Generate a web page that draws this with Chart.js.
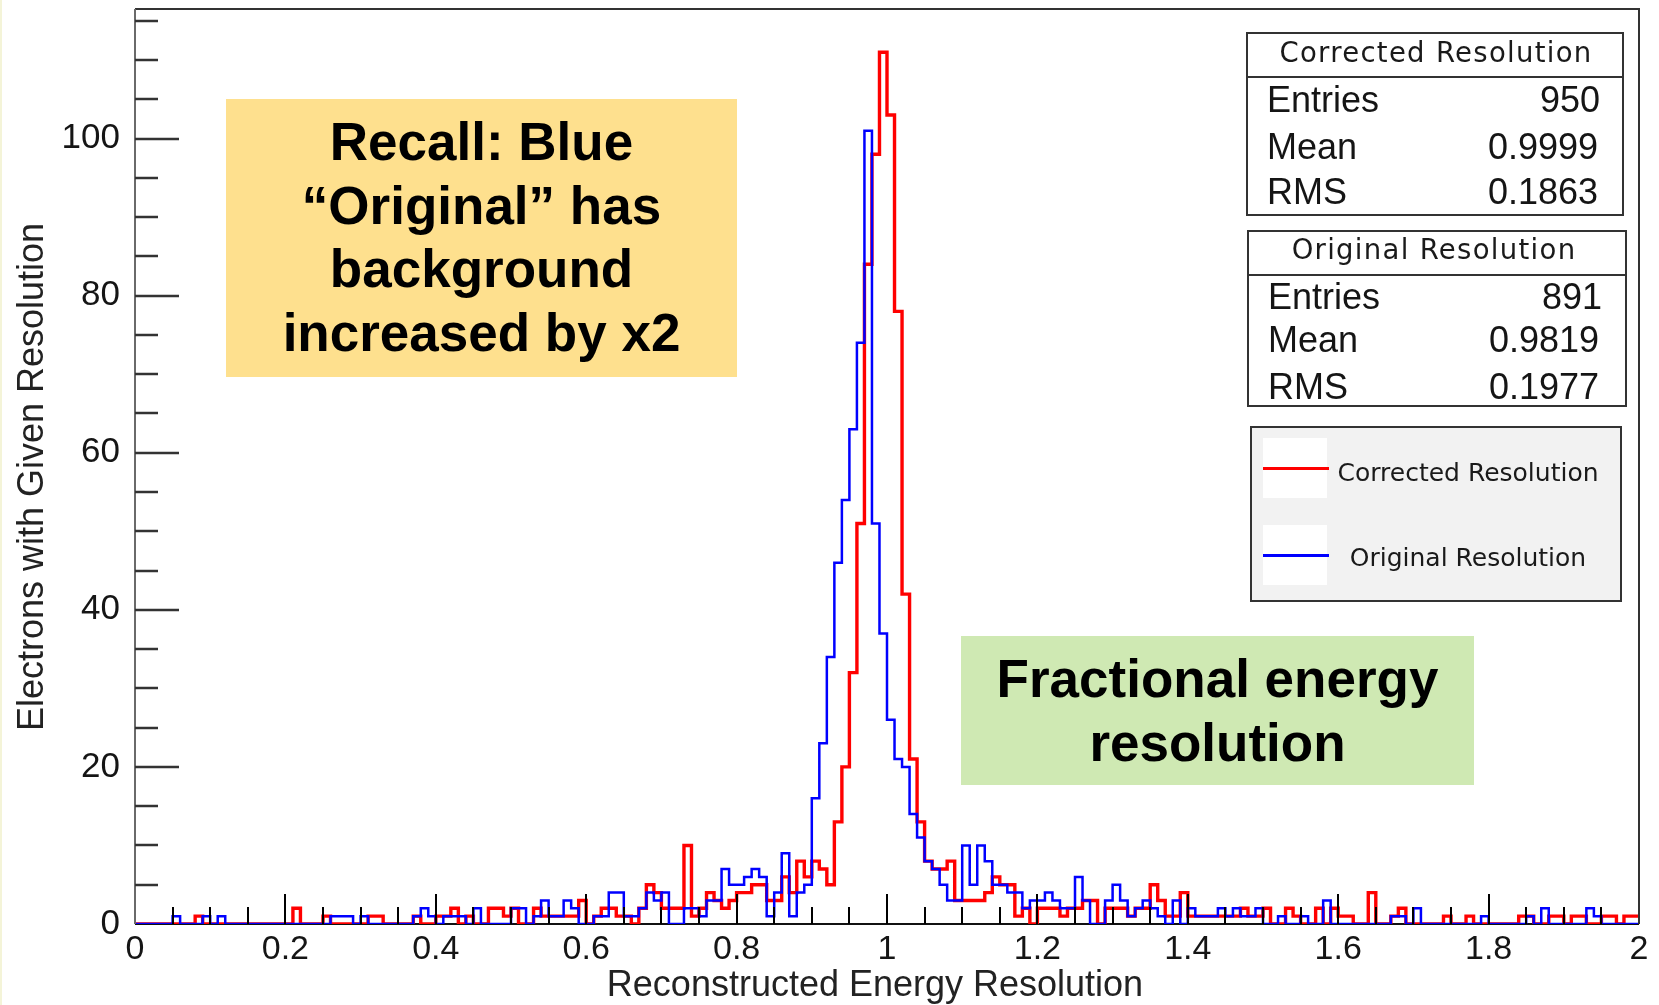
<!DOCTYPE html>
<html>
<head>
<meta charset="utf-8">
<title>Reconstructed Energy Resolution</title>
<script src="https://cdn.jsdelivr.net/npm/chart.js@4.4.1/dist/chart.umd.min.js"></script>
<style>
  html, body { margin: 0; padding: 0; background: #fff; overflow: hidden; }
  #wrap { position: relative; width: 1659px; height: 1005px; background: #fff; overflow: hidden; }
  #edge { position: absolute; left: 0; top: 0; width: 2px; height: 1005px; background: #f4f4d8; }
  #plot { position: absolute; left: 0; top: 0; }
  .abs { position: absolute; }
  .note { position: absolute; font-family: "Liberation Sans", Arial, sans-serif; font-weight: bold;
          font-size: 53px; text-align: center; color: #000; box-sizing: border-box; }
  #recall { left: 226px; top: 99px; width: 511px; height: 278px; background: #fee08e;
            line-height: 63.5px; padding-top: 11px; }
  #frac { left: 961px; top: 636px; width: 513px; height: 149px; background: #cfe9b3;
          line-height: 64px; padding-top: 10.5px; }
  .box { position: absolute; box-sizing: border-box; border: 2px solid #333; background: #fff; }
  .rule { position: absolute; height: 2px; background: #333; }
  .hd { position: absolute; font-family: "DejaVu Sans", sans-serif; font-size: 27.5px; line-height: 27px;
        letter-spacing: 1.3px; text-align: center; color: #1a1a1a; white-space: nowrap; }
  .lab, .val { position: absolute; font-family: "Liberation Sans", Arial, sans-serif; font-size: 36px;
               line-height: 36px; color: #151515; white-space: nowrap; }
  .val { text-align: right; }
  .legtxt { position: absolute; font-family: "DejaVu Sans", sans-serif; font-size: 25px; line-height: 25px;
            text-align: center; color: #1a1a1a; white-space: nowrap; }
</style>
</head>
<body>
<div id="wrap">
  <canvas id="plot" width="1659" height="1005"></canvas>
  <div id="edge"></div>

  <div id="recall" class="note">Recall: Blue<br>“Original” has<br>background<br>increased by x2</div>
  <div id="frac" class="note">Fractional energy<br>resolution</div>

  <!-- statistics box: corrected -->
  <div class="box" style="left:1246px;top:32px;width:378px;height:184px;"></div>
  <div class="rule" style="left:1246px;top:76px;width:378px;"></div>
  <div class="hd" style="left:1246px;top:39px;width:380px;">Corrected Resolution</div>
  <div class="lab" style="left:1267px;top:82px;">Entries</div>
  <div class="val" style="left:1400px;top:82px;width:200px;" id="cEntries"></div>
  <div class="lab" style="left:1267px;top:129px;">Mean</div>
  <div class="val" style="left:1400px;top:129px;width:198px;" id="cMean"></div>
  <div class="lab" style="left:1267px;top:174px;">RMS</div>
  <div class="val" style="left:1400px;top:174px;width:198px;" id="cRms"></div>

  <!-- statistics box: original -->
  <div class="box" style="left:1247px;top:230px;width:380px;height:177px;"></div>
  <div class="rule" style="left:1247px;top:274px;width:380px;"></div>
  <div class="hd" style="left:1246px;top:236px;width:376px;">Original Resolution</div>
  <div class="lab" style="left:1268px;top:279px;">Entries</div>
  <div class="val" style="left:1400px;top:279px;width:202px;" id="oEntries"></div>
  <div class="lab" style="left:1268px;top:322px;">Mean</div>
  <div class="val" style="left:1400px;top:322px;width:199px;" id="oMean"></div>
  <div class="lab" style="left:1268px;top:369px;">RMS</div>
  <div class="val" style="left:1400px;top:369px;width:199px;" id="oRms"></div>

  <!-- legend -->
  <div class="box" style="left:1250px;top:426px;width:372px;height:176px;background:#f2f2f2;"></div>
  <div class="abs" style="left:1263px;top:438px;width:64px;height:60px;background:#fff;"></div>
  <div class="abs" id="legRed" style="left:1263px;top:467px;width:66px;height:3px;"></div>
  <div class="abs" style="left:1263px;top:525px;width:64px;height:60px;background:#fff;"></div>
  <div class="abs" id="legBlue" style="left:1263px;top:554px;width:66px;height:3px;"></div>
  <div class="legtxt" id="legTxt1" style="left:1330px;top:460px;width:276px;"></div>
  <div class="legtxt" id="legTxt2" style="left:1330px;top:545px;width:276px;"></div>
</div>

<script>
// Histogram binning: 200 bins of width 0.01 over [0, 2]
const xMin = 0;
const xMax = 2;
const binWidth = 0.01;

// Corrected resolution, counts per bin
const corrected = [
  0,0,0,0,0,0,0,0,1,0, 0,0,0,0,0,0,0,0,0,0,
  0,2,0,0,0,1,0,0,0,0, 0,1,1,0,0,0,0,1,0,0,
  1,1,2,0,1,0,0,2,2,1, 2,0,0,2,1,1,1,1,1,3,
  0,1,2,2,1,1,0,2,5,4, 2,2,2,10,1,2,4,3,2,3,
  4,4,5,5,3,3,6,4,8,6, 8,7,5,13,20,32,51,84,98,111,
  103,78,42,21,13,8,7,7,8,3, 3,3,3,4,6,5,5,1,2,0,
  2,2,2,1,2,2,3,3,0,2, 2,2,1,2,2,5,3,1,1,4,
  1,1,1,1,1,1,1,2,1,1, 2,0,0,2,1,0,0,2,0,2,
  1,1,0,0,4,0,0,1,2,0, 0,0,0,0,1,0,0,1,0,0,
  0,0,0,0,1,1,0,0,1,1, 0,1,1,0,0,1,1,0,1,1
];

// Original resolution, counts per bin
const original = [
  0,0,0,0,0,1,0,0,0,1, 0,1,0,0,0,0,0,0,0,0,
  0,0,0,0,0,0,1,1,1,0, 1,0,0,0,0,0,0,1,2,1,
  0,1,1,1,0,2,0,0,0,0, 2,2,0,1,3,1,1,3,2,0,
  0,1,1,4,4,1,1,2,4,3, 4,0,0,2,2,1,3,3,7,5,
  5,6,7,6,1,4,9,1,4,5, 16,23,34,46,54,63,74,101,51,37,
  26,21,20,14,11,8,7,5,3,3, 10,5,10,8,5,5,4,4,2,3,
  3,4,3,2,2,6,3,0,0,3, 5,3,1,2,3,2,1,0,3,0,
  2,1,1,1,2,1,2,1,1,2, 0,0,1,0,0,1,0,0,3,0,
  0,0,0,0,0,0,0,1,1,0, 2,0,0,0,0,0,0,0,0,1,
  0,0,0,0,0,1,0,2,0,0, 0,0,0,2,1,0,0,0,0,0
];

// Series names and summary statistics
const seriesNames = ['Corrected Resolution', 'Original Resolution'];
const correctedStats = { entries: '950', mean: '0.9999', rms: '0.1863' };
const originalStats  = { entries: '891', mean: '0.9819', rms: '0.1977' };

// Axis tick values and labels
const xTickValues = [0, 0.2, 0.4, 0.6, 0.8, 1, 1.2, 1.4, 1.6, 1.8, 2];
const xTickLabels = ['0', '0.2', '0.4', '0.6', '0.8', '1', '1.2', '1.4', '1.6', '1.8', '2'];
const yTickValues = [0, 20, 40, 60, 80, 100];
const yTickLabels = ['0', '20', '40', '60', '80', '100'];
const yMax = 116.5;

const xTitle = 'Reconstructed Energy Resolution';
const yTitle = 'Electrons with Given Resolution';

const redColor = '#ff0000';
const blueColor = '#0000ff';

// Fill the HTML boxes
document.getElementById('cEntries').textContent = correctedStats.entries;
document.getElementById('cMean').textContent = correctedStats.mean;
document.getElementById('cRms').textContent = correctedStats.rms;
document.getElementById('oEntries').textContent = originalStats.entries;
document.getElementById('oMean').textContent = originalStats.mean;
document.getElementById('oRms').textContent = originalStats.rms;
document.getElementById('legTxt1').textContent = seriesNames[0];
document.getElementById('legTxt2').textContent = seriesNames[1];
document.getElementById('legRed').style.background = redColor;
document.getElementById('legBlue').style.background = blueColor;

// Step outline: each point starts a bin, the last point closes the range
function toSteps(counts) {
  const pts = counts.map((c, i) => ({ x: xMin + i * binWidth, y: c }));
  pts.push({ x: xMax, y: counts[counts.length - 1] });
  return pts;
}

// Frame, axis lines, inward tick marks and axis titles
const frameAndTicks = {
  id: 'frameAndTicks',
  beforeDatasetsDraw(chart) {
    const { ctx, chartArea: a } = chart;
    ctx.save();
    ctx.strokeStyle = '#111';
    ctx.lineWidth = 2;
    ctx.beginPath();
    ctx.moveTo(a.left, a.bottom);
    ctx.lineTo(a.right, a.bottom);
    ctx.stroke();
    ctx.restore();
  },
  afterDatasetsDraw(chart) {
    const { ctx, chartArea: a, scales: { x, y } } = chart;
    ctx.save();
    ctx.lineWidth = 2;
    ctx.strokeStyle = '#333';
    ctx.beginPath();
    ctx.moveTo(a.left, a.top);
    ctx.lineTo(a.right, a.top);
    ctx.lineTo(a.right, a.bottom);
    ctx.stroke();

    ctx.strokeStyle = '#6a6a6a';
    ctx.beginPath();
    ctx.moveTo(a.left, a.top);
    ctx.lineTo(a.left, a.bottom);
    ctx.stroke();

    // x ticks every 0.05, long ones at labelled values
    ctx.strokeStyle = '#000';
    ctx.lineWidth = 2;
    for (let k = 1; k < 40; k++) {
      const px = Math.round(x.getPixelForValue(k * 0.05));
      const len = (k % 4 === 0) ? 30 : 17;
      ctx.beginPath();
      ctx.moveTo(px, a.bottom);
      ctx.lineTo(px, a.bottom - len);
      ctx.stroke();
    }

    // y ticks every 5, long ones at labelled values
    ctx.strokeStyle = '#333';
    ctx.lineWidth = 2.5;
    for (let k = 1; k * 5 <= yMax; k++) {
      const py = Math.round(y.getPixelForValue(k * 5));
      const len = (k % 4 === 0) ? 44 : 23;
      ctx.beginPath();
      ctx.moveTo(a.left, py);
      ctx.lineTo(a.left + len, py);
      ctx.stroke();
    }

    // axis titles
    ctx.fillStyle = '#222';
    ctx.textBaseline = 'alphabetic';
    ctx.textAlign = 'center';
    ctx.font = "36px 'Liberation Sans', Arial, sans-serif";
    ctx.fillText(xTitle, 875, 996);
    ctx.translate(43, 477);
    ctx.rotate(-Math.PI / 2);
    ctx.fillText(yTitle, 0, 0);
    ctx.restore();
  }
};

Chart.defaults.font.family = "'Liberation Sans', Arial, sans-serif";

new Chart(document.getElementById('plot'), {
  type: 'line',
  data: {
    datasets: [
      {
        label: seriesNames[0],
        data: toSteps(corrected),
        borderColor: redColor,
        borderWidth: 3.4,
        stepped: true,
        pointRadius: 0,
        fill: false,
        order: 1
      },
      {
        label: seriesNames[1],
        data: toSteps(original),
        borderColor: blueColor,
        borderWidth: 2.5,
        stepped: true,
        pointRadius: 0,
        fill: false,
        order: 0
      }
    ]
  },
  options: {
    responsive: false,
    animation: false,
    events: [],
    layout: { padding: { left: 0, top: 9, right: 20, bottom: 0 } },
    plugins: {
      legend: { display: false },
      tooltip: { enabled: false }
    },
    scales: {
      x: {
        type: 'linear',
        min: xMin,
        max: xMax,
        grid: { display: false, drawTicks: false },
        border: { display: false },
        afterBuildTicks: (s) => { s.ticks = xTickValues.map(v => ({ value: v })); },
        afterFit: (s) => { s.height = 81; s.paddingLeft = 0; s.paddingRight = 0; },
        ticks: {
          padding: 5,
          autoSkip: false,
          maxRotation: 0,
          color: '#151515',
          font: { size: 34 },
          callback: (v, i) => xTickLabels[i]
        }
      },
      y: {
        type: 'linear',
        min: 0,
        max: yMax,
        grid: { display: false, drawTicks: false },
        border: { display: false },
        afterBuildTicks: (s) => { s.ticks = yTickValues.map(v => ({ value: v })); },
        afterFit: (s) => { s.width = 135; s.paddingTop = 0; s.paddingBottom = 0; },
        ticks: {
          padding: 15,
          color: '#151515',
          font: { size: 35 },
          callback: (v, i) => yTickLabels[i]
        }
      }
    }
  },
  plugins: [frameAndTicks]
});
</script>
</body>
</html>
